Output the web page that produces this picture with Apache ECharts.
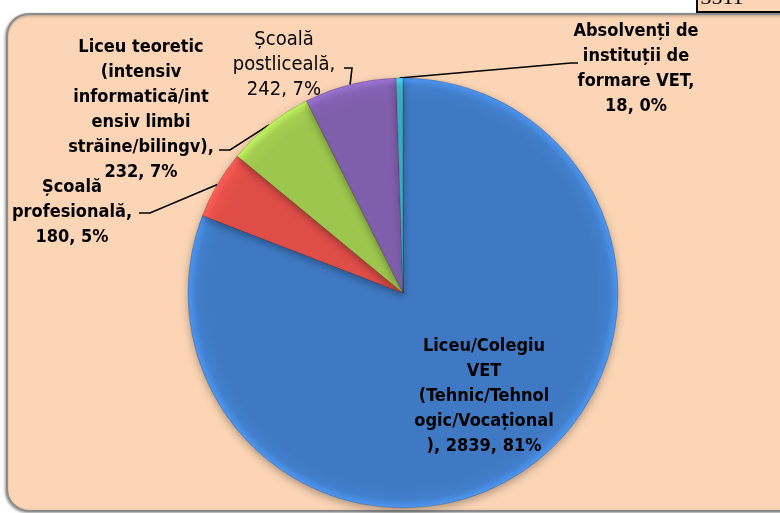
<!DOCTYPE html>
<html>
<head>
<meta charset="utf-8">
<script src="https://cdn.jsdelivr.net/npm/echarts@6/dist/echarts.min.js"></script>
<style>
  html, body { margin: 0; padding: 0; background: #fff; }
  #chart { width: 780px; height: 513px; }
</style>
</head>
<body>
<div id="chart"></div>
<script>
// categories and values
const categories = [
  'Liceu/Colegiu VET (Tehnic/Tehnologic/Vocațional)',
  'Școală profesională',
  'Liceu teoretic (intensiv informatică/intensiv limbi străine/bilingv)',
  'Școală postliceală',
  'Absolvenți de instituții de formare VET'
]
const values = [2839, 180, 232, 242, 18]
const percents = [81, 5, 7, 7, 0]  // as printed on the labels
const total = 3511

// label texts, wrapped the same way as the reference
const labelTpl = [
  'Liceu/Colegiu\nVET\n(Tehnic/Tehnol\nogic/Vocațional\n), {v}, {p}%',
  'Școală\nprofesională,\n{v}, {p}%',
  'Liceu teoretic\n(intensiv\ninformatică/int\nensiv limbi\nstrăine/bilingv),\n{v}, {p}%',
  'Școală\npostliceală,\n{v}, {p}%',
  'Absolvenți de\ninstituții de\nformare VET,\n{v}, {p}%'
]
const colors = ['#3f79c3', '#de4d47', '#9dc64e', '#7f5eab', '#40aac6']
const boldLabel = [true, true, true, false, true]

// label placement (block centre) and leader line end
const labelPos = [[484, 396], [72, 212], [141, 110], [284, 65], [636, 69]]
const lineEnd = [null, [[150, 213], [139, 213]], [[230, 150], [219, 150]], [[352, 68], [344, 68]], [[571, 63], [578, 63]]]

const pieCenter = [403, 293]
const pieRadius = 215

function shade(c) {
  return {
    type: 'radial', x: pieCenter[0], y: pieCenter[1], r: pieRadius, global: true,
    colorStops: [
      { offset: 0, color: c },
      { offset: 0.9, color: c },
      { offset: 0.96, color: echarts.color.lift(c, -0.05) },
      { offset: 1, color: echarts.color.lift(c, -0.25) }
    ]
  }
}

const chart = echarts.init(document.getElementById('chart'), null, { renderer: 'canvas' })

chart.setOption({
  animation: false,
  graphic: [
    {
      type: 'rect', z: -10,
      shape: { x: 7, y: 14, width: 800, height: 497, r: 22 },
      style: {
        fill: '#fbd5b5', stroke: '#8c8c8c', lineWidth: 2,
        shadowBlur: 3, shadowColor: 'rgba(0,0,0,0.35)', shadowOffsetX: -1, shadowOffsetY: 1
      }
    },
    {
      type: 'rect', z: -9,
      shape: { x: 697, y: -30, width: 100, height: 42 },
      style: { fill: '#fbd5b5', stroke: '#000', lineWidth: 2 }
    },
    {
      type: 'text', z: -8,
      x: 722, y: 9,
      style: {
        text: '3511', font: '22px "Liberation Serif", serif', fill: '#000',
        align: 'center', verticalAlign: 'bottom'
      }
    }
  ],
  series: [{
    type: 'pie',
    center: pieCenter,
    radius: pieRadius,
    startAngle: 90,
    clockwise: true,
    avoidLabelOverlap: false,
    itemStyle: {
      borderColor: 'rgba(0,0,0,0.18)',
      borderWidth: 1,
      shadowBlur: 8,
      shadowColor: 'rgba(0,0,0,0.3)',
      shadowOffsetY: 3
    },
    label: {
      show: true,
      color: '#000',
      fontFamily: '"DejaVu Sans Condensed", sans-serif',
      fontSize: 18,
      lineHeight: 25,
      align: 'center',
      formatter: p => labelTpl[p.dataIndex]
        .replace('{v}', p.value)
        .replace('{p}', percents[p.dataIndex])
    },
    labelLine: {
      show: true,
      lineStyle: { color: '#000', width: 1.6 }
    },
    labelLayout: p => {
      const i = p.dataIndex
      const out = { x: labelPos[i][0], y: labelPos[i][1], align: 'center', verticalAlign: 'middle' }
      if (lineEnd[i] && p.labelLinePoints) {
        out.labelLinePoints = [p.labelLinePoints[0], lineEnd[i][0], lineEnd[i][1]]
      }
      return out
    },
    data: categories.map((name, i) => ({
      name: name,
      value: values[i],
      itemStyle: { color: shade(colors[i]) },
      label: {
        position: i === 0 ? 'inside' : 'outside',
        fontWeight: boldLabel[i] ? 'bold' : 'normal',
        fontSize: boldLabel[i] ? 18 : 20
      },
      labelLine: { show: i !== 0 }
    }))
  }]
})
</script>
</body>
</html>
